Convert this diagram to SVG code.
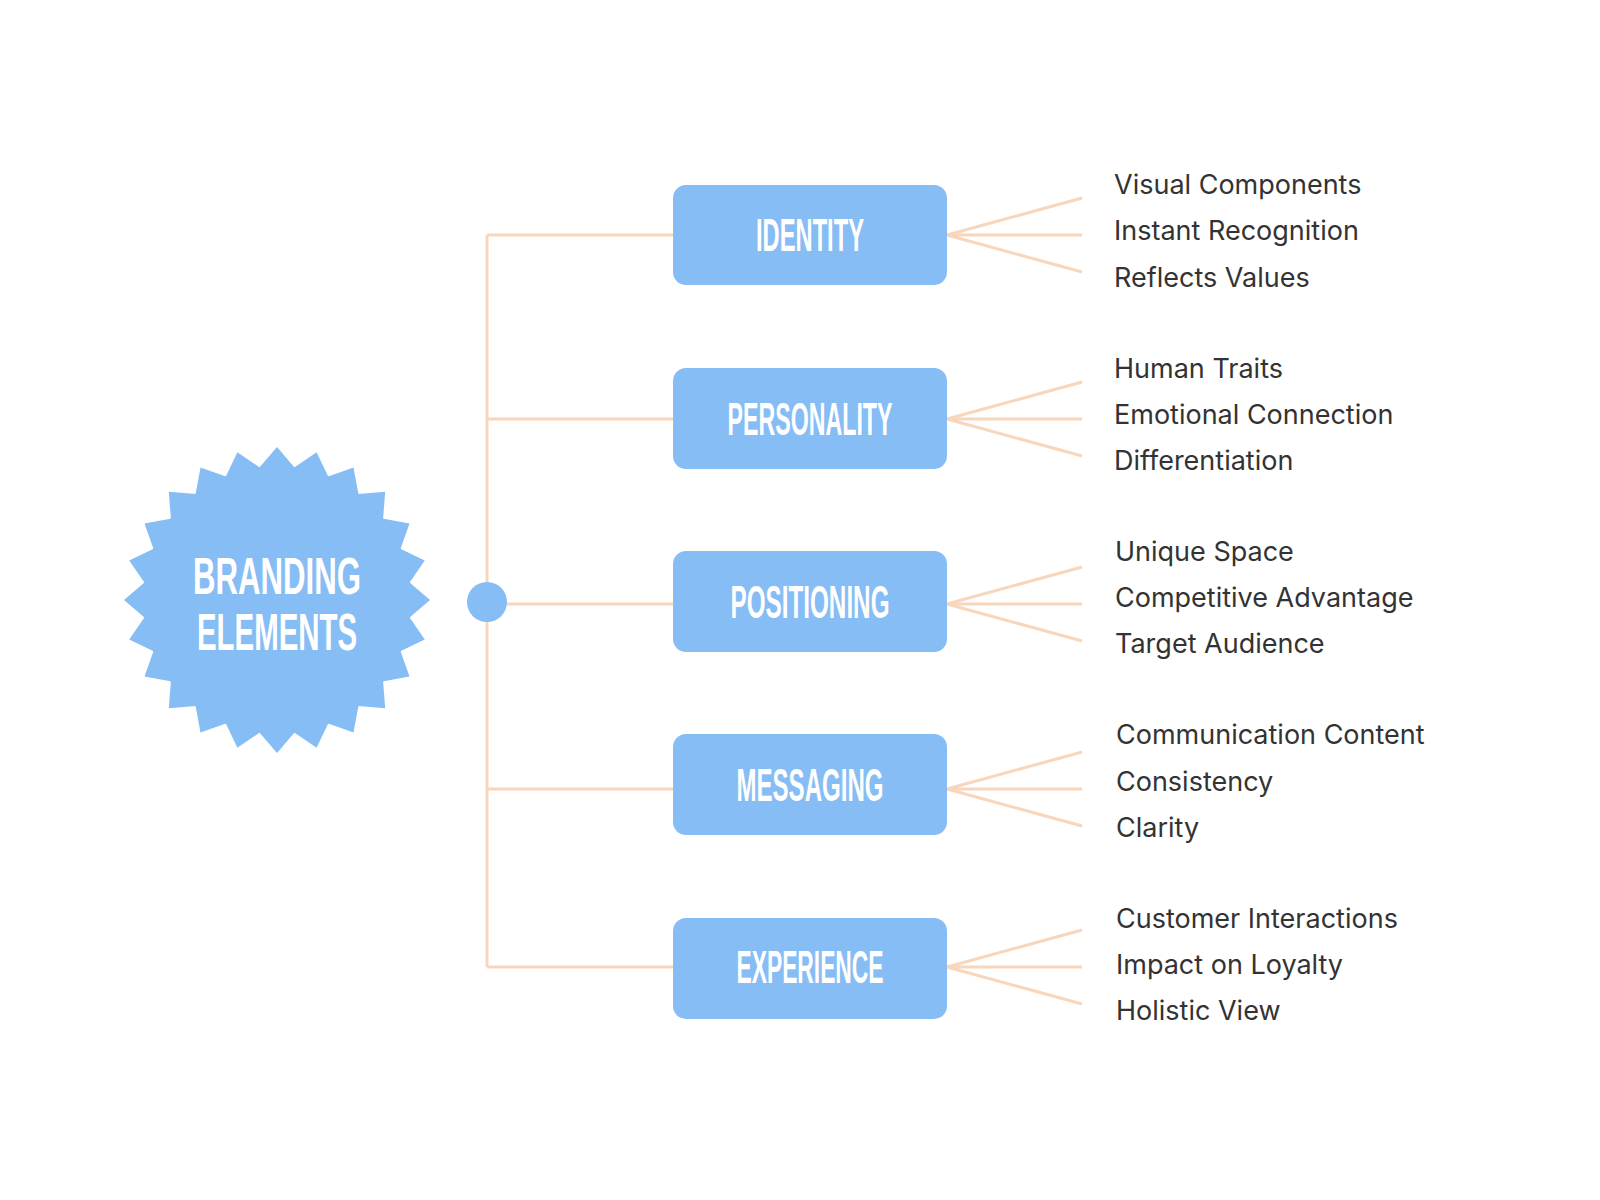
<svg xmlns="http://www.w3.org/2000/svg" xmlns:xlink="http://www.w3.org/1999/xlink" width="1600" height="1200" viewBox="0 0 1600 1200">
<style>
.c{stroke:#F8D6BC;stroke-width:3;fill:none}
.box{fill:#87BDF5}
.bl{font-family:"Liberation Sans",sans-serif;font-weight:bold;fill:#fff;text-anchor:middle}
.it{font-family:Inter,"Liberation Sans",sans-serif;font-size:27px;fill:#333}
</style>
<defs>
<polygon id="sp" points="277,447 295,468 277,482 259,468" fill="#87BDF5"/>
</defs>
<rect width="1600" height="1200" fill="#fff"/>
<g id="connectors">
<path class="c" d="M487,235V967M487,235H673M487,419H673M487,604H673M487,789H673M487,967H673"/>
<path class="c" d="M947,235L1082,198M947,235H1082M947,235L1082,272M947,419L1082,382M947,419H1082M947,419L1082,456M947,604L1082,567M947,604H1082M947,604L1082,641M947,789L1082,752M947,789H1082M947,789L1082,826M947,967L1082,930M947,967H1082M947,967L1082,1004"/>
</g>
<g id="branding">
<circle cx="277" cy="600" r="134" fill="#87BDF5"/>
<use xlink:href="#sp"/><use xlink:href="#sp" transform="rotate(15 277 600)"/><use xlink:href="#sp" transform="rotate(30 277 600)"/><use xlink:href="#sp" transform="rotate(45 277 600)"/><use xlink:href="#sp" transform="rotate(60 277 600)"/><use xlink:href="#sp" transform="rotate(75 277 600)"/><use xlink:href="#sp" transform="rotate(90 277 600)"/><use xlink:href="#sp" transform="rotate(105 277 600)"/><use xlink:href="#sp" transform="rotate(120 277 600)"/><use xlink:href="#sp" transform="rotate(135 277 600)"/><use xlink:href="#sp" transform="rotate(150 277 600)"/><use xlink:href="#sp" transform="rotate(165 277 600)"/><use xlink:href="#sp" transform="rotate(180 277 600)"/><use xlink:href="#sp" transform="rotate(195 277 600)"/><use xlink:href="#sp" transform="rotate(210 277 600)"/><use xlink:href="#sp" transform="rotate(225 277 600)"/><use xlink:href="#sp" transform="rotate(240 277 600)"/><use xlink:href="#sp" transform="rotate(255 277 600)"/><use xlink:href="#sp" transform="rotate(270 277 600)"/><use xlink:href="#sp" transform="rotate(285 277 600)"/><use xlink:href="#sp" transform="rotate(300 277 600)"/><use xlink:href="#sp" transform="rotate(315 277 600)"/><use xlink:href="#sp" transform="rotate(330 277 600)"/><use xlink:href="#sp" transform="rotate(345 277 600)"/>
<text class="bl" x="277" y="594" font-size="52" textLength="168" lengthAdjust="spacingAndGlyphs">BRANDING</text>
<text class="bl" x="277" y="650" font-size="52" textLength="160" lengthAdjust="spacingAndGlyphs">ELEMENTS</text>
</g>
<g id="hub"><circle cx="487" cy="602" r="20" fill="#87BDF5"/></g>
<g id="identity"><rect class="box" x="673" y="185" width="274" height="100" rx="13"/><text class="bl" x="810" y="251" font-size="47" textLength="108" lengthAdjust="spacingAndGlyphs">IDENTITY</text>
<text class="it" x="1114" y="194">Visual Components</text><text class="it" x="1114" y="240">Instant Recognition</text><text class="it" x="1114" y="287">Reflects Values</text></g>
<g id="personality"><rect class="box" x="673" y="368" width="274" height="101" rx="13"/><text class="bl" x="810" y="435" font-size="47" textLength="165" lengthAdjust="spacingAndGlyphs">PERSONALITY</text>
<text class="it" x="1114" y="378">Human Traits</text><text class="it" x="1114" y="424">Emotional Connection</text><text class="it" x="1114" y="470">Differentiation</text></g>
<g id="positioning"><rect class="box" x="673" y="551" width="274" height="101" rx="13"/><text class="bl" x="810" y="618" font-size="47" textLength="159" lengthAdjust="spacingAndGlyphs">POSITIONING</text>
<text class="it" x="1115" y="561">Unique Space</text><text class="it" x="1115" y="607">Competitive Advantage</text><text class="it" x="1115" y="653">Target Audience</text></g>
<g id="messaging"><rect class="box" x="673" y="734" width="274" height="101" rx="13"/><text class="bl" x="810" y="801" font-size="47" textLength="147" lengthAdjust="spacingAndGlyphs">MESSAGING</text>
<text class="it" x="1116" y="744">Communication Content</text><text class="it" x="1116" y="791">Consistency</text><text class="it" x="1116" y="837">Clarity</text></g>
<g id="experience"><rect class="box" x="673" y="918" width="274" height="101" rx="13"/><text class="bl" x="810" y="983" font-size="47" textLength="147" lengthAdjust="spacingAndGlyphs">EXPERIENCE</text>
<text class="it" x="1116" y="928">Customer Interactions</text><text class="it" x="1116" y="974">Impact on Loyalty</text><text class="it" x="1116" y="1020">Holistic View</text></g>
</svg>
